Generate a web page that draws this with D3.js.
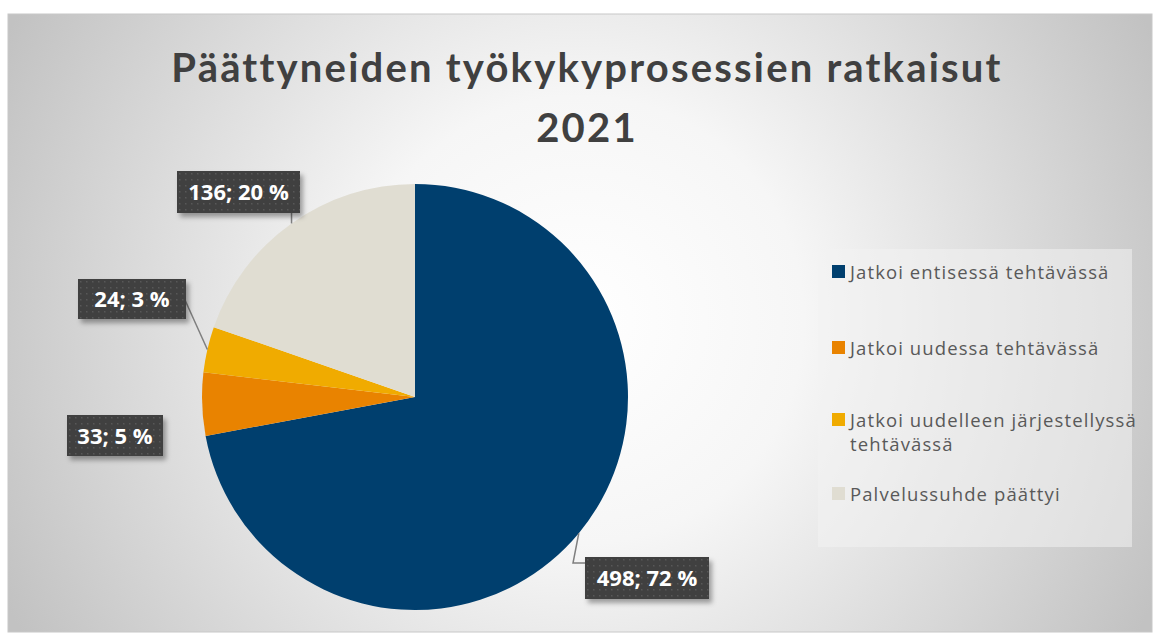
<!DOCTYPE html>
<html>
<head>
<meta charset="utf-8">
<script src="https://cdn.jsdelivr.net/npm/d3@7"></script>
<style>
  body { margin: 0; background: #fff; }
  svg text { font-family: Lato, "Open Sans", sans-serif; }
</style>
</head>
<body>
<div id="container"></div>
<script>
/* DATA */
const categories = ["Jatkoi entisessä tehtävässä", "Jatkoi uudessa tehtävässä", "Jatkoi uudelleen järjestellyssä tehtävässä", "Palvelussuhde päättyi"];
const values = [498, 33, 24, 136];
const percentLabels = ["72 %", "5 %", "3 %", "20 %"];
const colors = ["#003f6e", "#e98300", "#f0ab00", "#e0ddd2"];
const legendLines = [["Jatkoi entisessä tehtävässä"], ["Jatkoi uudessa tehtävässä"], ["Jatkoi uudelleen järjestellyssä", "tehtävässä"], ["Palvelussuhde päättyi"]];
const titleLines = ["Päättyneiden työkykyprosessien ratkaisut", "2021"];

/* LAYOUT */
const width = 1153, height = 633;
const frame = { x: 8, y: 14, w: 1144, h: 618 };
const cx = 415, cy = 397, radius = 213;

const svg = d3.select("#container").append("svg")
  .attr("width", width).attr("height", height);

const defs = svg.append("defs");
const bg = defs.append("radialGradient").attr("id", "bg")
  .attr("gradientUnits", "userSpaceOnUse")
  .attr("cx", 580).attr("cy", 320).attr("r", 640);
bg.append("stop").attr("offset", "0%").attr("stop-color", "#ffffff");
bg.append("stop").attr("offset", "35%").attr("stop-color", "#f6f6f6");
bg.append("stop").attr("offset", "100%").attr("stop-color", "#c2c2c2");

const pat = defs.append("pattern").attr("id", "dots")
  .attr("patternUnits", "userSpaceOnUse").attr("width", 6).attr("height", 6);
pat.append("rect").attr("width", 6).attr("height", 6).attr("fill", "#3f3f3f");
pat.append("rect").attr("x", 2).attr("y", 2).attr("width", 1.5).attr("height", 1.5).attr("fill", "#585858");

const shadow = defs.append("filter").attr("id", "shadow")
  .attr("x", "-20%").attr("y", "-20%").attr("width", "150%").attr("height", "160%");
shadow.append("feDropShadow").attr("dx", 3).attr("dy", 4).attr("stdDeviation", 2.5)
  .attr("flood-color", "#000").attr("flood-opacity", 0.35);

// frame
svg.append("rect")
  .attr("x", frame.x).attr("y", frame.y).attr("width", frame.w).attr("height", frame.h)
  .attr("fill", "url(#bg)").attr("stroke", "#c8c8c8").attr("stroke-width", 1);

// title
svg.append("g").selectAll("text").data(titleLines).join("text")
  .attr("x", 587).attr("y", (d, i) => 82 + i * 60)
  .attr("text-anchor", "middle")
  .attr("font-size", 40).attr("font-weight", "bold").attr("fill", "#404040")
  .attr("letter-spacing", 2.2)
  .text(d => d);

// pie
const pie = d3.pie().sort(null).value(d => d);
const arcs = pie(values);
const arc = d3.arc().innerRadius(0).outerRadius(radius);

const g = svg.append("g").attr("transform", `translate(${cx},${cy})`);
g.selectAll("path").data(arcs).join("path")
  .attr("d", arc)
  .attr("fill", (d, i) => colors[i]);

// data labels: box positions (top-left)
const labelBoxes = [
  { x: 585, y: 557, w: 124, h: 42 },
  { x: 67, y: 415, w: 96, h: 41 },
  { x: 78, y: 279, w: 108, h: 40 },
  { x: 177, y: 171, w: 123, h: 42 }
];
// where each leader line leaves its box (null = no leader)
const leaderStarts = [[[585, 563], [573, 563]], null, [[185, 300]], null];

const edgePoint = d => {
  const a = (d.startAngle + d.endAngle) / 2;
  return [cx + radius * Math.sin(a), cy - radius * Math.cos(a)];
};
const lineGen = d3.line();
arcs.forEach((d, i) => {
  const p = edgePoint(d);
  let pts = null;
  if (i === 3) pts = [[p[0], labelBoxes[3].y + labelBoxes[3].h], p];
  else if (leaderStarts[i]) pts = [...leaderStarts[i], p];
  if (pts) {
    svg.append("path").attr("d", lineGen(pts))
      .attr("fill", "none").attr("stroke", "#7f7f7f").attr("stroke-width", 1.5);
  }
});

const lbl = svg.append("g").selectAll("g").data(arcs).join("g")
  .attr("transform", (d, i) => `translate(${labelBoxes[i].x},${labelBoxes[i].y})`);
lbl.append("rect")
  .attr("width", (d, i) => labelBoxes[i].w).attr("height", (d, i) => labelBoxes[i].h)
  .attr("fill", "url(#dots)").attr("filter", "url(#shadow)");
lbl.append("text")
  .attr("x", (d, i) => labelBoxes[i].w / 2).attr("y", (d, i) => labelBoxes[i].h / 2 + 8)
  .attr("text-anchor", "middle")
  .style("font-family", "'Open Sans', sans-serif")
  .attr("font-size", 22).attr("font-weight", "bold").attr("fill", "#ffffff")
  .text((d, i) => `${values[i]}; ${percentLabels[i]}`);

// legend
const legend = svg.append("g");
legend.append("rect")
  .attr("x", 818).attr("y", 249).attr("width", 314).attr("height", 298)
  .attr("fill", "#f2f2f2").attr("fill-opacity", 0.55);
const legendY = [272, 348, 420, 494];
const items = legend.selectAll("g").data(categories).join("g")
  .attr("transform", (d, i) => `translate(832,${legendY[i]})`);
items.append("rect").attr("x", 0).attr("y", -7).attr("width", 13).attr("height", 13)
  .attr("fill", (d, i) => colors[i]);
items.append("text")
  .attr("x", 18).attr("y", 6.5)
  .style("font-family", "'Open Sans', sans-serif")
  .attr("font-size", 18.5).attr("letter-spacing", 1.1).attr("fill", "#595959")
  .selectAll("tspan").data((d, i) => legendLines[i]).join("tspan")
  .attr("x", 18).attr("dy", (d, j) => j === 0 ? 0 : 24)
  .text(d => d);
</script>
</body>
</html>
